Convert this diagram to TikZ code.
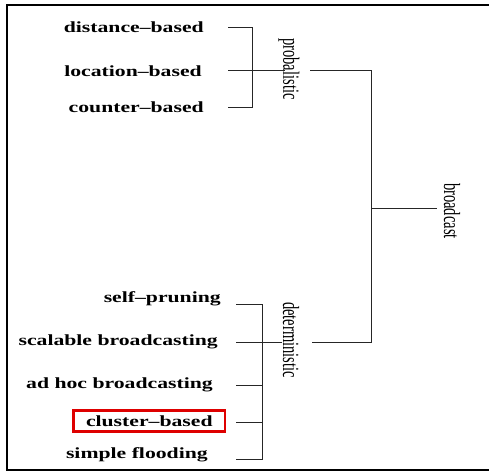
\documentclass[tikz,border=0pt]{standalone}
\usepackage{fontspec}
\setmainfont{Liberation Serif}
\definecolor{boxred}{RGB}{222,0,0}
\begin{document}
\begin{tikzpicture}[x=1pt,y=-1pt]
        \tikzstyle{leaf}=[anchor=east, inner sep=0pt, font=\bfseries\fontsize{15.5}{18}\selectfont, xscale=1.4, transform shape]
        \tikzstyle{group}=[inner sep=0pt, font=\fontsize{14.5}{17}\selectfont, rotate=-90, yscale=1.6, transform shape]
        \tikzstyle{marked}=[draw=boxred, line width=2.6pt, inner xsep=9pt, minimum height=21pt]
        \tikzstyle{edge}=[black!85, line width=0.8pt]
        \tikzstyle{frame}=[black, line width=2.4pt]

        \useasboundingbox (0,0) rectangle (489,473);
        \draw[frame] (489,5) -- (7,5) -- (7,470) -- (489,470);

        \node[leaf] (dist)  at (204,27)  {distance--based};
        \node[leaf] (loc)   at (202,71)  {location--based};
        \node[leaf] (cnt)   at (204,107) {counter--based};

        \node[leaf] (self)  at (221,299) {self--pruning};
        \node[leaf] (scal)  at (218,342) {scalable broadcasting};
        \node[leaf] (adhoc) at (213,385) {ad hoc broadcasting};
        \node[leaf, marked] (clus) at (227,421) {cluster--based};
        \node[leaf] (flood) at (208,455) {simple flooding};

        \node[group] (prob) at (289,69)  {probalistic};
        \node[group] (det)  at (291,340) {deterministic};
        \node[group] (bc)   at (452,211) {broadcast};

        % probabilistic branch
        \coordinate (dist-s) at (228,27);
        \coordinate (loc-s)  at (228,70);
        \coordinate (cnt-s)  at (228,107);
        \coordinate (p-top)  at (252,27);
        \coordinate (p-bot)  at (252,107);
        \coordinate (prob-in)  at (285,70);
        \coordinate (prob-out) at (310,70);

        \draw[edge] (dist-s) -- (p-top) -- (p-bot) -- (cnt-s);
        \draw[edge] (loc-s) -- (prob-in);

        % deterministic branch
        \coordinate (self-s)  at (236,304);
        \coordinate (scal-s)  at (236,342);
        \coordinate (adhoc-s) at (236,385);
        \coordinate (clus-s)  at (236,422);
        \coordinate (flood-s) at (236,459);
        \coordinate (d-top)   at (262,304);
        \coordinate (d-adhoc) at (262,385);
        \coordinate (d-clus)  at (262,422);
        \coordinate (d-bot)   at (262,459);
        \coordinate (det-in)  at (282,342);
        \coordinate (det-out) at (312,342);

        \draw[edge] (self-s) -- (d-top) -- (d-bot) -- (flood-s);
        \draw[edge] (scal-s) -- (det-in);
        \draw[edge] (adhoc-s) -- (d-adhoc);
        \draw[edge] (clus-s) -- (d-clus);

        % root
        \coordinate (r-top) at (371,70);
        \coordinate (r-mid) at (371,208);
        \coordinate (r-bot) at (371,342);
        \coordinate (bc-in) at (437,208);

        \draw[edge] (prob-out) -- (r-top) -- (r-bot) -- (det-out);
        \draw[edge] (r-mid) -- (bc-in);
\end{tikzpicture}
\end{document}
